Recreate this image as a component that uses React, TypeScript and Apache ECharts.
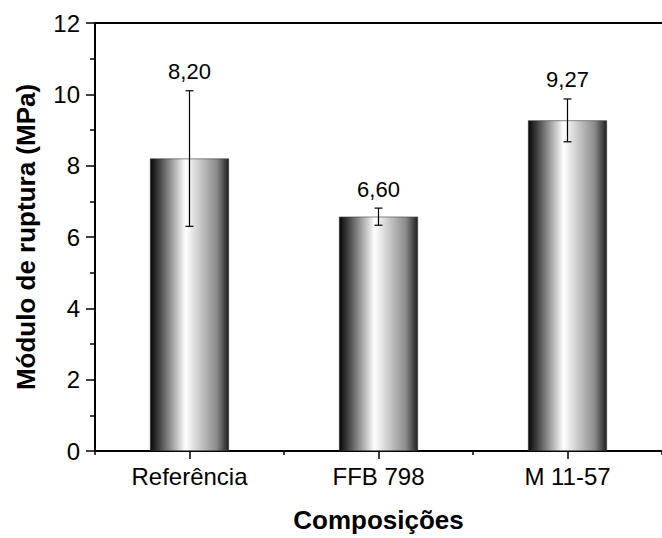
import React, { useEffect, useRef } from "react";
import * as echarts from "echarts";

const categories = ["Referência", "FFB 798", "M 11-57"];
const means = [8.2, 6.57, 9.27];
const errors = [1.9, 0.24, 0.6];
const valueLabels = ["8,20", "6,60", "9,27"];
const yTicks = [0, 2, 4, 6, 8, 10, 12];

const FONT = "'Liberation Sans', Arial, sans-serif";

export default function App() {
  const ref = useRef<HTMLDivElement>(null);
  useEffect(() => {
    if (!ref.current) return;
    const chart = echarts.init(ref.current, undefined, { renderer: "svg" });
    const grad = new echarts.graphic.LinearGradient(0, 0, 1, 0, [
      { offset: 0, color: "#050505" },
      { offset: 0.1, color: "#3a3a3a" },
      { offset: 0.45, color: "#ffffff" },
      { offset: 0.85, color: "#8a8a8a" },
      { offset: 1, color: "#1e1e1e" },
    ]);
    const errData = means.map((m, i) => [i, m - errors[i], m + errors[i], valueLabels[i]]);
    chart.setOption({
      animation: false,
      backgroundColor: "#ffffff",
      grid: { left: 95, top: 23, width: 579, height: 432, containLabel: false },
      xAxis: [
        {
          type: "category",
          data: categories,
          position: "bottom",
          boundaryGap: true,
          axisLine: { show: true, lineStyle: { color: "#000", width: 2 } },
          axisTick: { show: true, alignWithLabel: true, length: 8, lineStyle: { color: "#000", width: 1.5 } },
          axisLabel: { color: "#000", fontSize: 24, fontFamily: FONT, margin: 13 },
          name: "Composições",
          nameLocation: "middle",
          nameGap: 56,
          nameTextStyle: { color: "#000", fontSize: 26, fontWeight: "bold", fontFamily: FONT },
          splitLine: { show: false },
        },
        {
          type: "category",
          data: categories,
          position: "bottom",
          boundaryGap: true,
          axisLine: { show: false },
          axisTick: { show: true, length: 4, lineStyle: { color: "#000", width: 1.5 } },
          axisLabel: { show: false },
          splitLine: { show: false },
        },
        {
          type: "category",
          data: categories,
          position: "top",
          axisLine: { show: true, lineStyle: { color: "#000", width: 2 } },
          axisTick: { show: false },
          axisLabel: { show: false },
          splitLine: { show: false },
        },
      ],
      yAxis: {
        type: "value",
        min: yTicks[0],
        max: yTicks[yTicks.length - 1],
        interval: 2,
        axisLine: { show: true, lineStyle: { color: "#000", width: 2 } },
        axisTick: { show: true, length: 9, lineStyle: { color: "#000", width: 1.5 } },
        minorTick: { show: true, splitNumber: 2, length: 5, lineStyle: { color: "#000", width: 1.5 } },
        splitLine: { show: false },
        axisLabel: { color: "#000", fontSize: 24, fontFamily: FONT, margin: 15 },
        name: "Módulo de ruptura (MPa)",
        nameLocation: "middle",
        nameRotate: 90,
        nameGap: 56,
        nameTextStyle: { color: "#000", fontSize: 26, fontWeight: "bold", fontFamily: FONT },
      },
      series: [
        {
          type: "bar",
          xAxisIndex: 0,
          data: means,
          barWidth: 79,
          itemStyle: { color: grad, borderColor: "#3a3a3a", borderWidth: 0.6 },
        },
        {
          type: "custom",
          xAxisIndex: 0,
          data: errData,
          z: 10,
          renderItem: (params: any, api: any) => {
            const i = api.value(0);
            const lo = api.coord([i, api.value(1)]);
            const hi = api.coord([i, api.value(2)]);
            const cap = 4;
            const st = { stroke: "#000", lineWidth: 1.2 };
            return {
              type: "group",
              children: [
                { type: "line", shape: { x1: hi[0], y1: hi[1], x2: lo[0], y2: lo[1] }, style: st },
                { type: "line", shape: { x1: hi[0] - cap, y1: hi[1], x2: hi[0] + cap, y2: hi[1] }, style: st },
                { type: "line", shape: { x1: lo[0] - cap, y1: lo[1], x2: lo[0] + cap, y2: lo[1] }, style: st },
                {
                  type: "text",
                  style: {
                    x: hi[0],
                    y: hi[1] - 8,
                    text: String(api.value(3)),
                    fill: "#000",
                    font: `22px ${FONT}`,
                    align: "center",
                    verticalAlign: "bottom",
                  },
                },
              ],
            };
          },
        },
      ],
    });
    return () => chart.dispose();
  }, []);
  return (
    <div
      ref={ref}
      style={{ position: "absolute", left: 0, top: 0, width: 662, height: 538, background: "#fff" }}
    />
  );
}
